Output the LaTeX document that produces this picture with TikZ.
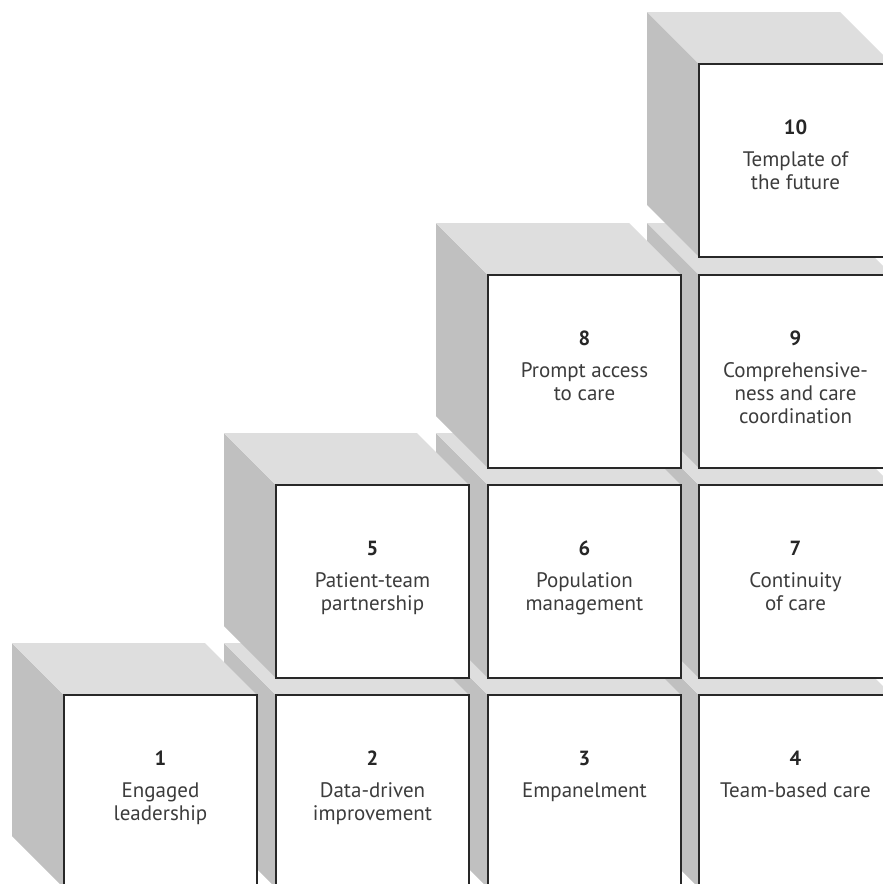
\documentclass[tikz,border=0pt]{standalone}
\usepackage{fontspec}
\setmainfont{PT Sans}
\definecolor{topgray}{RGB}{222,222,222}
\definecolor{sidegray}{RGB}{192,192,192}
\definecolor{edgecol}{RGB}{40,40,40}
\definecolor{txtcol}{RGB}{60,60,60}
\tikzset{
  topface/.style={fill=topgray},
  sideface/.style={fill=sidegray},
  frontface/.style={draw=edgecol, fill=white, line width=1.8pt, minimum width=193pt, minimum height=193pt, inner sep=0pt, outer sep=0pt, anchor=north west},
  numtext/.style={font=\fontsize{20.5}{23}\selectfont\bfseries, text=black!85, anchor=base, inner sep=0pt},
  lbl/.style={font=\fontsize{21}{23}\selectfont, text=txtcol, anchor=base, inner sep=0pt}
}
\newcommand\drawcube[3]{%
  \begin{scope}[shift={(#1,#2)}]
    \fill[sideface] (0,0) -- (0,193) -- (-52,141) -- (-52,-52) -- cycle;
    \fill[topface] (0,0) -- (193,0) -- (141,-52) -- (-52,-52) -- cycle;
    \node[frontface] (#3) at (0,0) {};
  \end{scope}}
\begin{document}
\begin{tikzpicture}[x=1pt,y=-1pt]
\useasboundingbox (0,0) rectangle (883,884);
\clip (0,0) rectangle (883,884);
% row 1
\drawcube{699}{695}{c4}
\drawcube{488}{695}{c3}
\drawcube{276}{695}{c2}
\drawcube{64}{695}{c1}
% row 2
\drawcube{699}{485}{c7}
\drawcube{488}{485}{c6}
\drawcube{276}{485}{c5}
% row 3
\drawcube{699}{275}{c9}
\drawcube{488}{275}{c8}
% row 4
\drawcube{699}{64}{c10}
% texts
\node[numtext] (n1) at ([yshift=-70pt]c1.north) {1};
\node[lbl] (l1a) at ([yshift=-102pt]c1.north) {Engaged};
\node[lbl] (l1b) at ([yshift=-125pt]c1.north) {leadership};
\node[numtext] (n2) at ([yshift=-70pt]c2.north) {2};
\node[lbl] (l2a) at ([yshift=-102pt]c2.north) {Data-driven};
\node[lbl] (l2b) at ([yshift=-125pt]c2.north) {improvement};
\node[numtext] (n3) at ([yshift=-70pt]c3.north) {3};
\node[lbl] (l3a) at ([yshift=-102pt]c3.north) {Empanelment};
\node[numtext] (n4) at ([yshift=-70pt]c4.north) {4};
\node[lbl] (l4a) at ([yshift=-102pt]c4.north) {Team-based care};
\node[numtext] (n5) at ([yshift=-70pt]c5.north) {5};
\node[lbl] (l5a) at ([yshift=-102pt]c5.north) {Patient-team};
\node[lbl] (l5b) at ([yshift=-125pt]c5.north) {partnership};
\node[numtext] (n6) at ([yshift=-70pt]c6.north) {6};
\node[lbl] (l6a) at ([yshift=-102pt]c6.north) {Population};
\node[lbl] (l6b) at ([yshift=-125pt]c6.north) {management};
\node[numtext] (n7) at ([yshift=-70pt]c7.north) {7};
\node[lbl] (l7a) at ([yshift=-102pt]c7.north) {Continuity};
\node[lbl] (l7b) at ([yshift=-125pt]c7.north) {of care};
\node[numtext] (n8) at ([yshift=-70pt]c8.north) {8};
\node[lbl] (l8a) at ([yshift=-102pt]c8.north) {Prompt access};
\node[lbl] (l8b) at ([yshift=-125pt]c8.north) {to care};
\node[numtext] (n9) at ([yshift=-70pt]c9.north) {9};
\node[lbl] (l9a) at ([yshift=-102pt]c9.north) {Comprehensive-};
\node[lbl] (l9b) at ([yshift=-125pt]c9.north) {ness and care};
\node[lbl] (l9c) at ([yshift=-148pt]c9.north) {coordination};
\node[numtext] (n10) at ([yshift=-70pt]c10.north) {10};
\node[lbl] (l10a) at ([yshift=-102pt]c10.north) {Template of};
\node[lbl] (l10b) at ([yshift=-125pt]c10.north) {the future};
\end{tikzpicture}
\end{document}
